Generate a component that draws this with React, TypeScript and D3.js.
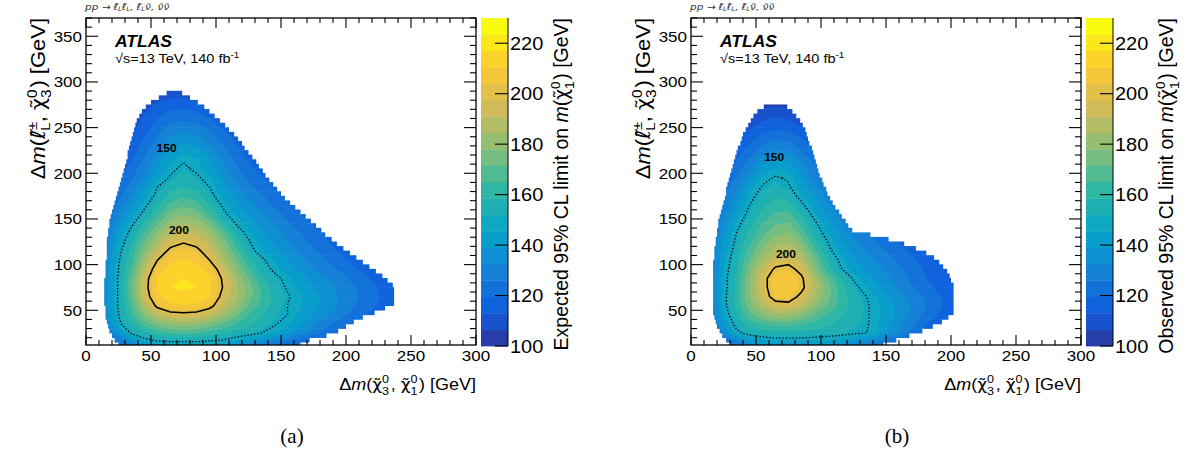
import React from "react";
import * as d3 from "d3";

// ---------------- data ----------------
const zRange = [100, 230];
const nBands = 20;
const colorbarTicks = [100, 120, 140, 160, 180, 200, 220];
const xTicks = [0, 50, 100, 150, 200, 250, 300];
const yTicks = [50, 100, 150, 200, 250, 300, 350];
const xDomain = [0, 300];
const yDomain = [12, 370];
const contourLevels = [150, 200];
// grid cells: column i covers X [10i, 10i+10]; row j covers Y [10+10j, 20+10j]; 0 = no reading
const cellSize = 10;
const gridYStart = 10;

const expectedRows: number[][] = [
  [0, 115, 125, 135, 145, 148, 149, 149, 149, 148, 147, 144, 139, 134, 129, 124, 120, 116],
  [0, 122, 138, 151, 157, 162, 165, 166, 165, 162, 159, 155, 153, 150, 146, 140, 134, 128, 123, 118],
  [0, 132, 148, 158, 168, 176, 180, 182, 180, 177, 171, 165, 160, 155, 151, 146, 140, 134, 128, 123, 118],
  [0, 135, 150, 163, 178, 190, 196, 197, 196, 191, 183, 174, 165, 159, 153, 150, 144, 139, 134, 129, 124, 120, 116],
  [0, 136, 151, 167, 187, 203, 209, 210, 209, 204, 192, 182, 171, 163, 156, 150, 146, 141, 136, 132, 127, 123, 119, 115],
  [0, 137, 151, 170, 194, 209, 214, 215, 215, 211, 197, 186, 175, 165, 157, 151, 146, 141, 137, 132, 128, 124, 120, 116],
  [0, 136, 151, 171, 196, 211, 217, 218, 217, 212, 200, 187, 175, 164, 155, 149, 144, 139, 135, 131, 127, 123, 119, 115],
  [0, 135, 151, 170, 195, 211, 216, 217, 216, 211, 199, 185, 172, 161, 153, 147, 142, 137, 133, 129, 125, 121, 117, 114],
  [0, 134, 150, 167, 189, 207, 213, 215, 213, 208, 194, 179, 166, 155, 148, 142, 137, 133, 129, 125, 121, 117],
  [0, 132, 149, 163, 183, 200, 209, 211, 209, 200, 187, 174, 161, 152, 145, 139, 134, 130, 126, 122, 118, 115],
  [0, 130, 147, 161, 177, 192, 203, 206, 203, 194, 182, 168, 154, 146, 141, 136, 131, 127, 123, 119, 116],
  [0, 128, 144, 157, 172, 186, 195, 199, 196, 189, 177, 163, 151, 143, 138, 133, 128, 124, 120, 117],
  [0, 125, 141, 153, 166, 179, 189, 192, 190, 183, 170, 156, 147, 140, 135, 130, 126, 122, 118],
  [0, 122, 137, 148, 160, 171, 182, 185, 183, 175, 161, 150, 143, 137, 132, 127, 123, 119, 116],
  [0, 119, 132, 143, 153, 164, 174, 178, 175, 165, 153, 145, 139, 134, 129, 124, 120, 117],
  [0, 117, 128, 138, 148, 158, 167, 171, 168, 159, 149, 141, 135, 130, 125, 121, 118],
  [0, 115, 124, 133, 143, 153, 161, 164, 161, 153, 145, 138, 132, 127, 122, 118, 115],
  [0, 0, 121, 129, 139, 150, 155, 159, 156, 150, 141, 134, 128, 123, 119, 116],
  [0, 0, 118, 125, 134, 144, 151, 154, 152, 146, 138, 131, 125, 120, 116, 113],
  [0, 0, 116, 122, 130, 140, 148, 152, 148, 143, 135, 128, 122, 117, 114],
  [0, 0, 114, 119, 127, 136, 144, 149, 146, 140, 132, 125, 119, 115],
  [0, 0, 112, 116, 124, 132, 140, 144, 142, 136, 129, 122, 117, 113],
  [0, 0, 0, 114, 121, 128, 135, 138, 136, 131, 125, 119, 115],
  [0, 0, 0, 112, 118, 125, 131, 133, 131, 127, 121, 116, 113],
  [0, 0, 0, 110, 115, 121, 126, 127, 126, 122, 117, 113],
  [0, 0, 0, 0, 113, 118, 121, 122, 121, 117, 113],
  [0, 0, 0, 0, 110, 114, 117, 117, 115, 112],
  [0, 0, 0, 0, 0, 110, 112, 112, 110],
];

// [yLow, xMin, xMax] of each 5 GeV strip that holds points
const expectedStrips: number[][] = [
  [10, 25, 165], [15, 22, 172], [20, 20, 185], [25, 18, 194], [30, 17, 200], [35, 16, 206],
  [40, 15, 213], [45, 15, 222], [50, 15, 230], [55, 14, 237], [60, 14, 237], [65, 14, 237],
  [70, 14, 237], [75, 14, 236], [80, 14, 232], [85, 15, 228], [90, 15, 223], [95, 15, 218],
  [100, 15, 213], [105, 16, 208], [110, 16, 203], [115, 16, 198], [120, 16, 193], [125, 16, 189],
  [130, 17, 184], [135, 17, 181], [140, 18, 177], [145, 18, 173], [150, 19, 169], [155, 20, 165],
  [160, 21, 161], [165, 22, 157], [170, 23, 153], [175, 24, 150], [180, 25, 147], [185, 26, 144],
  [190, 27, 141], [195, 28, 138], [200, 29, 136], [205, 30, 133], [210, 31, 131], [215, 32, 128],
  [220, 32, 125], [225, 33, 122], [230, 34, 120], [235, 35, 117], [240, 36, 114], [245, 37, 110],
  [250, 38, 107], [255, 39, 103], [260, 41, 99], [265, 43, 95], [270, 46, 91], [275, 50, 86],
  [280, 56, 80], [285, 62, 74],
];
const expectedLabels = [
  { level: 150, x: 62, y: 228 },
  { level: 200, x: 71.5, y: 138 },
];

const observedRows: number[][] = [
  [0, 110, 118, 130, 139, 143, 145, 145, 145, 144, 143, 141, 138, 133, 127, 121, 116],
  [0, 115, 133, 148, 153, 155, 156, 156, 156, 155, 154, 153, 151, 150, 144, 136, 128, 120, 114],
  [0, 122, 140, 153, 161, 166, 168, 168, 166, 163, 160, 156, 153, 151, 145, 138, 131, 124, 118, 114],
  [0, 126, 145, 157, 169, 178, 183, 183, 178, 171, 165, 160, 155, 151, 146, 140, 134, 128, 122, 117, 113],
  [0, 127, 147, 160, 175, 187, 195, 196, 190, 180, 171, 163, 156, 151, 146, 140, 134, 129, 124, 119, 115],
  [0, 128, 147, 161, 178, 194, 205, 206, 197, 185, 174, 163, 155, 150, 144, 138, 133, 128, 123, 118, 114],
  [0, 128, 146, 160, 178, 196, 207, 209, 203, 189, 175, 162, 153, 146, 140, 134, 129, 124, 120, 116, 113],
  [0, 128, 146, 160, 178, 196, 207, 208, 202, 186, 171, 159, 149, 142, 137, 132, 127, 122, 118, 114, 111],
  [0, 127, 145, 158, 175, 191, 202, 204, 196, 179, 162, 151, 143, 138, 134, 130, 125, 121, 117, 113, 110],
  [0, 126, 144, 156, 171, 185, 194, 196, 189, 174, 159, 148, 140, 135, 131, 127, 123, 119, 115, 112],
  [0, 125, 142, 154, 167, 179, 187, 190, 183, 167, 153, 144, 137, 132, 128, 124, 120, 116, 113],
  [0, 124, 140, 152, 163, 174, 182, 184, 176, 161, 150, 141, 134, 129, 125, 121, 118],
  [0, 122, 137, 150, 160, 169, 176, 178, 169, 156, 146, 138, 131, 126, 122],
  [0, 120, 134, 147, 156, 165, 171, 172, 163, 152, 142, 134, 128],
  [0, 118, 131, 143, 153, 161, 166, 167, 158, 147, 138, 130, 125],
  [0, 116, 128, 139, 150, 157, 162, 161, 152, 143, 134, 127],
  [0, 0, 125, 135, 147, 154, 158, 155, 147, 139, 130, 124],
  [0, 0, 122, 131, 142, 151, 153, 151, 143, 135, 127, 121],
  [0, 0, 119, 127, 137, 147, 151, 149, 140, 131, 124],
  [0, 0, 116, 123, 132, 141, 146, 144, 136, 128, 121],
  [0, 0, 0, 119, 127, 135, 140, 138, 131, 123, 117],
  [0, 0, 0, 116, 122, 129, 133, 132, 126, 119, 114],
  [0, 0, 0, 113, 118, 124, 127, 126, 121, 116],
  [0, 0, 0, 0, 114, 119, 121, 120, 116, 112],
  [0, 0, 0, 0, 110, 114, 116, 115, 111],
  [0, 0, 0, 0, 0, 109, 111, 110, 107],
  [0, 0, 0, 0, 0, 105, 106, 105],
];

const observedStrips: number[][] = [
  [10, 30, 148], [15, 27, 158], [20, 24, 168], [25, 22, 178], [30, 20, 186], [35, 19, 193],
  [40, 18, 198], [45, 17, 202], [50, 17, 202], [55, 17, 202], [60, 17, 202], [65, 17, 202],
  [70, 17, 202], [75, 17, 202], [80, 17, 200], [85, 17, 199], [90, 17, 197], [95, 17, 194],
  [100, 17, 191], [105, 18, 187], [110, 18, 181], [115, 18, 173], [120, 19, 164], [125, 19, 152],
  [130, 20, 138], [135, 20, 124], [140, 21, 121], [145, 21, 119], [150, 22, 116], [155, 23, 114],
  [160, 24, 111], [165, 25, 109], [170, 26, 107], [175, 27, 105], [180, 27, 104], [185, 28, 102],
  [190, 29, 101], [195, 30, 99], [200, 31, 98], [205, 32, 97], [210, 33, 96], [215, 34, 95],
  [220, 35, 94], [225, 36, 93], [230, 38, 91], [235, 39, 90], [240, 40, 89], [245, 42, 88],
  [250, 44, 86], [255, 46, 84], [260, 48, 81], [265, 51, 78], [270, 56, 74],
];
const observedLabels = [
  { level: 150, x: 64, y: 218 },
  { level: 200, x: 73, y: 112 },
];

// ROOT "bird" palette stops
const birdR = [0.2082, 0.0592, 0.078, 0.0232, 0.1802, 0.5301, 0.8186, 0.9956, 0.9764];
const birdG = [0.1664, 0.3599, 0.5041, 0.6419, 0.7178, 0.7492, 0.7328, 0.7862, 0.9832];
const birdB = [0.5293, 0.8684, 0.8385, 0.7914, 0.6425, 0.4662, 0.3499, 0.1968, 0.0539];

// ---------------- helpers ----------------
function bird(t: number) {
  const p = Math.max(0, Math.min(1, t)) * 8;
  const i = Math.min(7, Math.floor(p));
  const f = p - i;
  const c = (a: number[]) => Math.round(255 * (a[i] + (a[i + 1] - a[i]) * f));
  return `rgb(${c(birdR)},${c(birdG)},${c(birdB)})`;
}
const bandStep = (zRange[1] - zRange[0]) / nBands;
const bandEdges = d3.range(nBands).map((k) => zRange[0] + k * bandStep);
const bandColor = (k: number) => bird((k + 1) / nBands);

const S = 0.9; // vertical squash of the figure's horizontal text
const FONT = "'Liberation Sans', Arial, Helvetica, sans-serif";
const TILDE_FONT = "'DejaVu Sans', 'Liberation Sans', sans-serif";

function buildGrid(rows: number[][]) {
  const nx = 31, ny = 37;
  let g = new Array(nx * ny).fill(0);
  rows.forEach((row, j) => row.forEach((v, i) => { g[j * nx + i] = v; }));
  for (let it = 0; it < 4; it++) {
    const next = g.slice();
    for (let j = 0; j < ny; j++) for (let i = 0; i < nx; i++) {
      if (g[j * nx + i] !== 0) continue;
      let s = 0, n = 0;
      for (let dj = -1; dj <= 1; dj++) for (let di = -1; di <= 1; di++) {
        const a = i + di, b = j + dj;
        if (a < 0 || b < 0 || a >= nx || b >= ny) continue;
        const v = g[b * nx + a];
        if (v > 0) { s += v; n++; }
      }
      if (n) next[j * nx + i] = s / n;
    }
    g = next;
  }
  return { g, nx, ny };
}

function Chi(props: { sup: string; sub: string; size: number }) {
  const { sup, sub, size } = props;
  return (
    <>
      <tspan fontFamily={TILDE_FONT} fontSize={size * 0.95}>χ̃</tspan>
      <tspan fontSize={size * 0.7} dy={-size * 0.42}>{sup}</tspan>
      <tspan fontSize={size * 0.7} dx={-size * 0.39} dy={size * 0.72}>{sub}</tspan>
      <tspan dy={-size * 0.3}>{"\u200a"}</tspan>
    </>
  );
}

function Panel(props: {
  left: number; rows: number[][]; strips: number[][]; labels: { level: number; x: number; y: number }[];
  zTitle: string; caption: string; id: string;
}) {
  const { left, rows, strips, labels, zTitle, caption, id } = props;
  const right = left + 390, top = 18, bottom = 345;
  const xs = d3.scaleLinear().domain(xDomain).range([left, right]);
  const ys = d3.scaleLinear().domain(yDomain).range([bottom, top]);
  const zs = d3.scaleLinear().domain(zRange).range([346, 18]);
  const { g, nx, ny } = buildGrid(rows);
  const bands = d3.contours().size([nx, ny]).thresholds(bandEdges)(g);
  const lines = d3.contours().size([nx, ny]).thresholds(contourLevels)(g);
  const proj = d3.geoTransform({
    point: function (x: number, y: number) {
      (this as any).stream.point(xs(x * cellSize), ys(gridYStart + y * cellSize));
    },
  });
  const path = d3.geoPath(proj as any);
  const cbL = right + 5, cbW = 27;
  const xMinor = d3.range(0, 301, 10);
  const yMinor = d3.range(20, 371, 10);
  const fs = 17;

  return (
    <g>
      <defs>
        <clipPath id={`frame-${id}`}>
          <rect x={left} y={top} width={right - left} height={bottom - top} />
        </clipPath>
        <clipPath id={`strips-${id}`}>
          {strips.map((s, i) => (
            <rect key={i} x={xs(s[1])} y={ys(s[0] + 5) - 0.3}
              width={xs(s[2]) - xs(s[1])} height={ys(s[0]) - ys(s[0] + 5) + 0.6} />
          ))}
        </clipPath>
      </defs>
      <g clipPath={`url(#frame-${id})`}>
        <g clipPath={`url(#strips-${id})`}>
          {bands.map((c, k) => (
            <path key={k} d={path(c as any) || ""} fill={bandColor(k)} stroke="none" />
          ))}
          {lines.map((c) => (
            <path key={c.value} d={path(c as any) || ""} fill="none" stroke="#000"
              strokeWidth={c.value === 200 ? 1.6 : 1.3}
              strokeDasharray={c.value === 200 ? undefined : "1.3 2"} />
          ))}
        </g>
      </g>
      {labels.map((l) => (
        <text key={l.level} transform={`translate(${xs(l.x)},${ys(l.y) + 4}) scale(1,${S})`}
          textAnchor="middle" fontFamily={FONT} fontWeight="bold" fontSize={12}>{l.level}</text>
      ))}
      {/* frame */}
      <rect x={left} y={top} width={right - left} height={bottom - top} fill="none" stroke="#000" strokeWidth={1.3} />
      {xMinor.map((v) => {
        const len = v % 50 === 0 ? 10 : 5;
        return (
          <g key={`x${v}`}>
            <line x1={xs(v)} x2={xs(v)} y1={bottom} y2={bottom - len} stroke="#000" strokeWidth={1.1} />
            <line x1={xs(v)} x2={xs(v)} y1={top} y2={top + len} stroke="#000" strokeWidth={1.1} />
          </g>
        );
      })}
      {yMinor.map((v) => {
        const len = v % 50 === 0 ? 12 : 6;
        return (
          <g key={`y${v}`}>
            <line x1={left} x2={left + len} y1={ys(v)} y2={ys(v)} stroke="#000" strokeWidth={1.1} />
            <line x1={right} x2={right - len} y1={ys(v)} y2={ys(v)} stroke="#000" strokeWidth={1.1} />
          </g>
        );
      })}
      {xTicks.map((v) => (
        <text key={`xl${v}`} transform={`translate(${xs(v)},361) scale(1,${S})`} textAnchor="middle"
          fontFamily={FONT} fontSize={fs}>{v}</text>
      ))}
      {yTicks.map((v) => (
        <text key={`yl${v}`} transform={`translate(${left - 4},${ys(v) + 5.5}) scale(1,${S})`} textAnchor="end"
          fontFamily={FONT} fontSize={fs}>{v}</text>
      ))}
      {/* axis titles */}
      <text transform={`translate(${right},390) scale(1,${S})`} textAnchor="end" fontFamily={FONT} fontSize={18}>
        Δ<tspan fontStyle="italic">m</tspan>(<Chi sup="0" sub="3" size={18} />, <Chi sup="0" sub="1" size={18} />) [GeV]
      </text>
      <text transform={`translate(${left - 41},${top}) scale(0.9,1) rotate(-90)`} textAnchor="end" fontFamily={FONT} fontSize={22}>
        Δ<tspan fontStyle="italic">m</tspan>(<tspan fontFamily={TILDE_FONT} fontStyle="italic">ℓ̃</tspan>
        <tspan fontSize={15} dy={-9}>±</tspan>
        <tspan fontSize={15} dx={-9} dy={14.5}>L</tspan>
        <tspan dy={-5.5}>, </tspan><Chi sup="0" sub="3" size={22} />) [GeV]
      </text>
      {/* ATLAS label */}
      <text transform={`translate(${left + 29},47) scale(1,${S})`} fontFamily={FONT} fontWeight="bold" fontStyle="italic" fontSize={17.5}>ATLAS</text>
      <text transform={`translate(${left + 29},63) scale(1,${S})`} fontFamily={FONT} fontSize={14.5}>
        √s=13 TeV, 140 fb<tspan fontSize={10} dy={-6}>-1</tspan>
      </text>
      <text transform={`translate(${left - 1},9.5) scale(1,${S})`} fontFamily={TILDE_FONT} fontStyle="italic" fontSize={10.5} fill="#333">
        pp → ℓ̃<tspan fontSize={7} dy={2}>L</tspan><tspan dy={-2}>ℓ̃</tspan><tspan fontSize={7} dy={2}>L</tspan>
        <tspan dy={-2}>, ℓ̃</tspan><tspan fontSize={7} dy={2}>L</tspan><tspan dy={-2}>ν̃, ν̃ν̃</tspan>
      </text>
      {/* colour bar */}
      {bandEdges.map((e, k) => (
        <rect key={`cb${k}`} x={cbL} y={zs(e + bandStep)} width={cbW}
          height={zs(e) - zs(e + bandStep) + 0.4} fill={bandColor(k)} />
      ))}
      <line x1={cbL + cbW} x2={cbL + cbW} y1={zs(zRange[0])} y2={zs(zRange[1])} stroke="#000" strokeWidth={1} />
      {colorbarTicks.map((v) => (
        <g key={`cbt${v}`}>
          <line x1={cbL + cbW} x2={cbL + cbW - 13} y1={zs(v)} y2={zs(v)} stroke="#000" strokeWidth={1.1} />
          <text transform={`translate(${cbL + cbW + 2},${zs(v) + 6.5}) scale(1,${S})`} fontFamily={FONT} fontSize={20}>{v}</text>
        </g>
      ))}
      <text transform={`translate(${cbL + cbW + 60},${top}) rotate(-90)`} textAnchor="end" fontFamily={FONT} fontSize={19.5}>
        {zTitle} 95% CL limit on <tspan fontStyle="italic">m</tspan>(<Chi sup="0" sub="1" size={19.5} />) [GeV]
      </text>
      <text x={(left + right) / 2 + 11} y={443} textAnchor="middle" fontFamily="'Liberation Serif', 'Times New Roman', serif" fontSize={21}>{caption}</text>
    </g>
  );
}

export default function App() {
  return (
    <svg width={1186} height={450} style={{ display: "block", position: "absolute", left: 0, top: 0, background: "#fff" }}>
      <rect width={1186} height={450} fill="#fff" />
      <Panel left={86} rows={expectedRows} strips={expectedStrips} labels={expectedLabels} zTitle="Expected" caption="(a)" id="a" />
      <Panel left={691} rows={observedRows} strips={observedStrips} labels={observedLabels} zTitle="Observed" caption="(b)" id="b" />
    </svg>
  );
}
